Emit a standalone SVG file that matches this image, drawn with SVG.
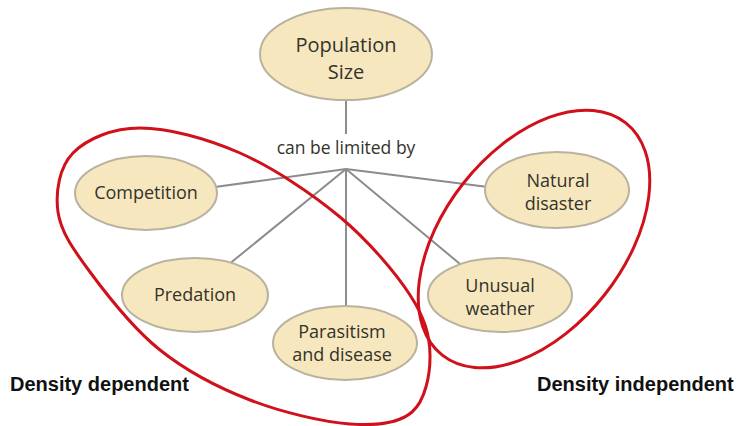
<svg xmlns="http://www.w3.org/2000/svg" width="738" height="426" viewBox="0 0 738 426">
<style>
.node ellipse{fill:#f7e7bf;stroke:#b8b29e;stroke-width:2}
.node text{font-family:"Open Sans","Noto Sans",sans-serif;font-size:18px;fill:#33332a;text-anchor:middle}
.big text{font-size:20px}
.conn line{stroke:#8c8c8c;stroke-width:2}
.grp{fill:none;stroke:#d0101a;stroke-width:3}
.lbl{font-family:"Liberation Sans",Arial,sans-serif;font-weight:bold;font-size:20px;fill:#111}
.mid{font-family:"Open Sans","Noto Sans",sans-serif;font-size:17.5px;fill:#33332a;text-anchor:middle}
</style>
<rect width="738" height="426" fill="#fff"/>
<g id="connectors" class="conn">
<line x1="346" y1="99" x2="346" y2="134"/>
<line x1="346" y1="169" x2="215" y2="187"/>
<line x1="346" y1="169" x2="228" y2="265"/>
<line x1="346" y1="169" x2="346" y2="308"/>
<line x1="346" y1="169" x2="488" y2="187"/>
<line x1="346" y1="169" x2="460" y2="264"/>
</g>
<text class="mid" x="346" y="154">can be limited by</text>
<g id="population" class="node big">
<ellipse cx="346" cy="54" rx="86" ry="46"/>
<text x="346" y="52">Population</text>
<text x="346" y="79">Size</text>
</g>
<g id="competition" class="node">
<ellipse cx="146" cy="193" rx="71" ry="37"/>
<text x="146" y="199">Competition</text>
</g>
<g id="predation" class="node">
<ellipse cx="195" cy="295" rx="73" ry="37"/>
<text x="195" y="301">Predation</text>
</g>
<g id="parasitism" class="node">
<ellipse cx="345" cy="343" rx="72" ry="37"/>
<text x="342" y="338">Parasitism</text>
<text x="342" y="361">and disease</text>
</g>
<g id="natural" class="node">
<ellipse cx="557" cy="190" rx="72" ry="38"/>
<text x="558" y="187">Natural</text>
<text x="558" y="210">disaster</text>
</g>
<g id="weather" class="node">
<ellipse cx="500" cy="295" rx="72" ry="37"/>
<text x="500" y="292">Unusual</text>
<text x="500" y="315">weather</text>
</g>
<g id="dependent-group">
<path class="grp" d="M140,128 C167.8,128 206.7,138.2 240,153 C273.3,167.8 311.7,193.3 340,217 C368.3,240.7 395,272 410,295 C425,318 429.7,335.5 430,355 C430.3,374.5 425.3,400.5 412,412 C398.7,423.5 377,426 350,424 C323,422 281.7,412.3 250,400 C218.3,387.7 186.7,371.3 160,350 C133.3,328.7 107,295 90,272 C73,249 60.8,231.8 58,212 C55.2,192.2 59.3,167 73,153 C86.7,139 112.2,128 140,128 Z"/>
<text class="lbl" x="10" y="391">Density dependent</text>
</g>
<g id="independent-group">
<ellipse class="grp" cx="0" cy="0" rx="148" ry="90" transform="translate(534 239) rotate(-51.7)"/>
<text class="lbl" x="537" y="391">Density independent</text>
</g>
</svg>
